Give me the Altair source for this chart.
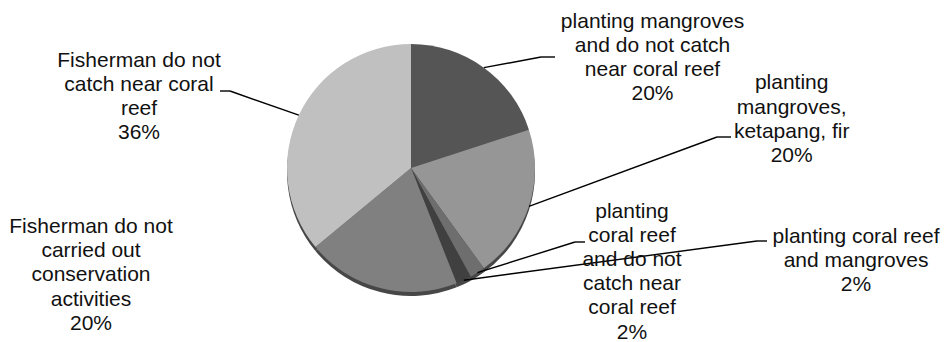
import altair as alt
import pandas as pd

# ---- data -------------------------------------------------------------
categories = [
    "planting mangroves and do not catch near coral reef",
    "planting mangroves, ketapang, fir",
    "planting coral reef and do not catch near coral reef",
    "planting coral reef and mangroves",
    "Fisherman do not carried out conservation activities",
    "Fisherman do not catch near coral reef",
]
shares = [20, 20, 2, 2, 20, 36]
label_lines = [
    ["planting mangroves", "and do not catch", "near coral reef"],
    ["planting", "mangroves,", "ketapang, fir"],
    ["planting", "coral reef", "and do not", "catch near", "coral reef"],
    ["planting coral reef", "and mangroves"],
    ["Fisherman do not", "carried out", "conservation", "activities"],
    ["Fisherman do not", "catch near coral", "reef"],
]

# ---- layout / style ---------------------------------------------------
W, H = 945, 342
CX, CY, R = 411, 168, 124
LINE_H = 24.2
FONT = "Liberation Sans"
slice_colors = ["#555555", "#969696", "#6e6e6e", "#404040", "#808080", "#c0c0c0"]
label_anchor = [(652.5, 21.7), (791.7, 83.3), (632, 211.5), (856, 237), (91, 227), (139, 60.7)]
leader_elbow = [(541, 57), (717, 137), (575, 242), (757, 241), None, (230, 91)]
leader_end = [(555, 57), (731, 137), (585, 242), (767, 241), None, (220, 91)]

slices = pd.DataFrame({
    "idx": range(len(categories)),
    "category": categories,
    "share": shares,
    "ex": [e[0] if e else None for e in leader_elbow],
    "ey": [e[1] if e else None for e in leader_elbow],
    "hx": [e[0] if e else None for e in leader_end],
})

rows = []
for i, (lines, share, (ax, ay)) in enumerate(zip(label_lines, shares, label_anchor)):
    for k, line in enumerate(lines + [f"{share}%"]):
        rows.append({"idx": i, "text": line, "tx": ax, "ty": ay + k * LINE_H})
texts = pd.DataFrame(rows)

xs = alt.Scale(domain=[0, W], range=[0, W], nice=False, zero=False)
ys = alt.Scale(domain=[0, H], range=[0, H], nice=False, zero=False)

# 3D rim under the pie face
rim = alt.Chart(slices).mark_arc(radius=R, color="#474747").encode(
    theta=alt.Theta("share:Q", stack=True),
    order=alt.Order("idx:Q"),
    x=alt.value(CX),
    y=alt.value(CY + 4),
)

pie = alt.Chart(slices).mark_arc(radius=R).encode(
    theta=alt.Theta("share:Q", stack=True),
    order=alt.Order("idx:Q"),
    color=alt.Color("category:N", scale=alt.Scale(domain=categories, range=slice_colors), legend=None),
    x=alt.value(CX),
    y=alt.value(CY),
)

# leader lines start on the rim at each slice's mid angle
leader_base = (
    alt.Chart(slices)
    .transform_window(cum="sum(share)", sort=[alt.SortField("idx")])
    .transform_joinaggregate(total="sum(share)")
    .transform_calculate(mid="2*PI*(datum.cum - datum.share/2)/datum.total")
    .transform_calculate(
        sx=f"{CX} + {R}*sin(datum.mid)",
        sy=f"{CY} - {R}*cos(datum.mid)",
    )
    .transform_filter("isValid(datum.ex)")
)

slant = leader_base.mark_rule(color="black", strokeWidth=1.4).encode(
    x=alt.X("sx:Q", scale=xs, axis=None),
    y=alt.Y("sy:Q", scale=ys, axis=None),
    x2="ex:Q",
    y2="ey:Q",
)

flat = leader_base.mark_rule(color="black", strokeWidth=1.4).encode(
    x=alt.X("ex:Q", scale=xs, axis=None),
    x2="hx:Q",
    y=alt.Y("ey:Q", scale=ys, axis=None),
)

labels = alt.Chart(texts).mark_text(
    font=FONT, fontSize=21, color="#111111", align="center", baseline="middle"
).encode(
    x=alt.X("tx:Q", scale=xs, axis=None),
    y=alt.Y("ty:Q", scale=ys, axis=None),
    text="text:N",
)

chart = (
    alt.layer(rim, pie, slant, flat, labels)
    .properties(width=W, height=H, padding=0, autosize=alt.AutoSizeParams(type="none"), background="white")
    .configure_view(stroke=None)
)

chart.save("out.html", embed_options={"renderer": "svg", "actions": False})
